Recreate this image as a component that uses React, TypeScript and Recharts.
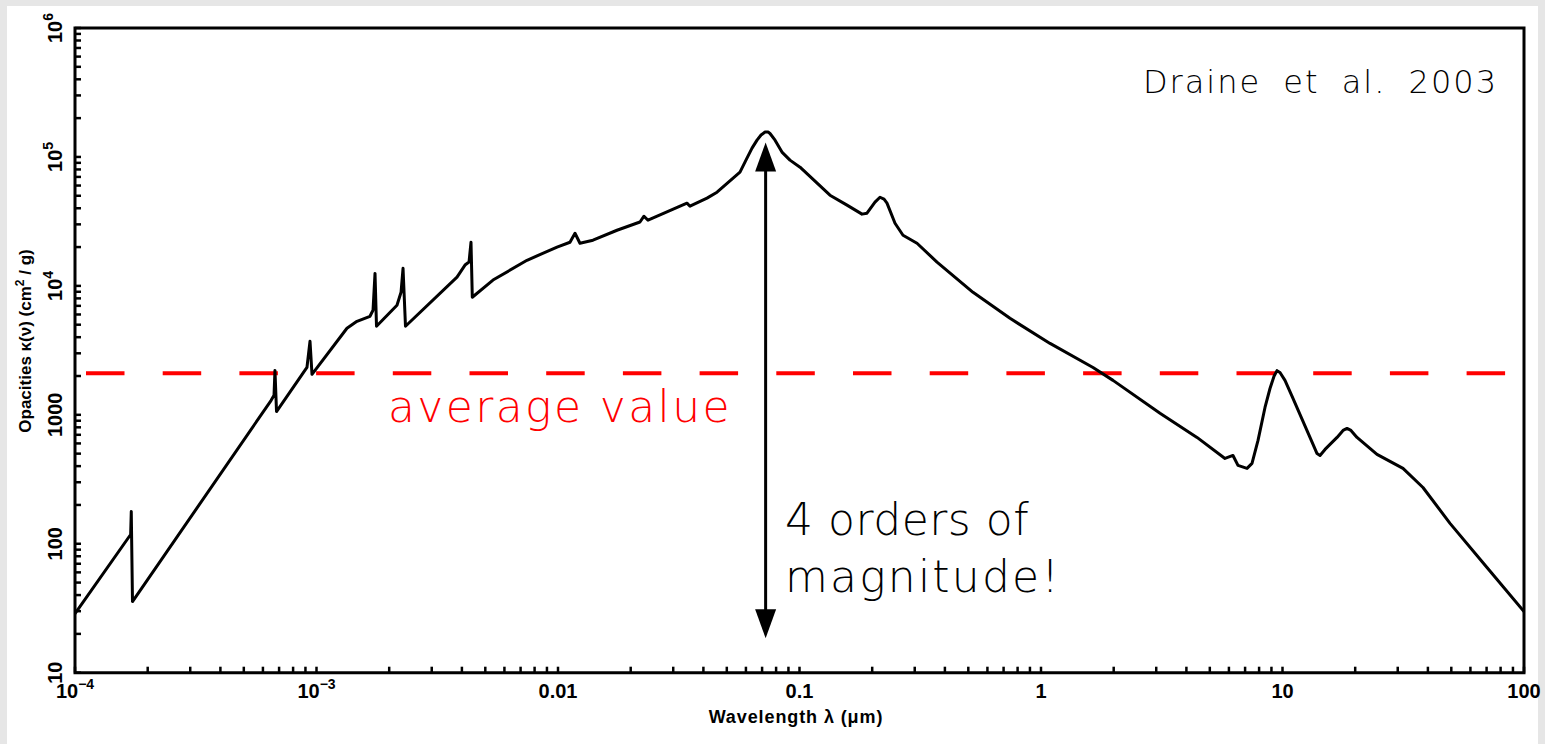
import React from 'react';
import { LineChart, Line, XAxis, YAxis, ReferenceLine, ReferenceArea } from 'recharts';

// Dust opacity vs wavelength (Draine 2003), lambda in micron, kappa in cm^2/g
const wavelengths = [
  1.0e-4, 1.70e-4, 1.71e-4, 1.73e-4, 6.48e-4, 6.67e-4, 6.73e-4, 6.83e-4,
  9.13e-4, 9.40e-4, 9.58e-4, 1.337e-3, 1.471e-3, 1.665e-3, 1.714e-3, 1.747e-3,
  1.772e-3, 2.154e-3, 2.239e-3, 2.282e-3, 2.336e-3, 3.818e-3, 4.12e-3, 4.281e-3,
  4.363e-3, 4.417e-3, 5.38e-3, 7.44e-3, 9.91e-3, 1.121e-2, 1.176e-2, 1.233e-2,
  1.396e-2, 1.755e-2, 2.185e-2, 2.27e-2, 2.359e-2, 3.42e-2, 3.52e-2, 4.14e-2,
  4.555e-2, 5.67e-2, 6.06e-2, 6.36e-2, 6.67e-2, 6.93e-2, 7.2e-2, 7.41e-2,
  7.55e-2, 7.92e-2, 8.46e-2, 9.13e-2,
  0.1005, 0.1337, 0.1573, 0.1815, 0.1903, 0.2054, 0.2154, 0.2239, 0.2303, 0.2486,
  0.2683, 0.3066, 0.371, 0.523, 0.744, 1.09, 1.642, 1.987,
  3.11, 4.426, 5.779, 6.237, 6.541, 7.129, 7.477, 7.918,
  8.463, 8.876, 9.222, 9.489, 9.763, 10.24, 11.05, 13.38, 13.9, 14.3, 15.0,
  16.82, 17.81, 18.5, 19.21, 20.35, 24.62, 31.55, 38.17, 49.39, 70.27, 100,
];

const opacities = [
  28.7, 118, 178, 35.6, 1290, 1420, 2210, 1060,
  2330, 3720, 2060, 4690, 5310, 5810, 6470, 12500,
  4860, 7070, 8920, 13700, 4860, 11700, 14500, 15300,
  21800, 8160, 11100, 15800, 20000, 21800, 25600, 21400,
  22600, 27000, 31300, 34700, 32300, 43800, 41500, 47900,
  53300, 76200, 97900, 117000, 135000, 148000, 156000, 156000,
  152000, 135000, 109000, 94500,
  83300, 50500, 42300, 36000, 36600, 44600, 48700, 47000, 43800, 30600,
  24700, 21400, 15300, 8920, 5600, 3580, 2330, 1850,
  1030, 668, 459, 484, 405, 384, 420, 633,
  1140, 1600, 1990, 2200, 2130, 1850, 1340, 589, 501, 484, 539,
  668, 757, 784, 757, 668, 493, 384, 273, 144, 65.4, 29.8,
];

const xDecades = [1e-4, 1e-3, 0.01, 0.1, 1, 10, 100];
const xDecadeLabels = ['10^\u22124', '10^\u22123', '0.01', '0.1', '1', '10', '100'];
const yDecades = [10, 100, 1000, 1e4, 1e5, 1e6];
const yDecadeLabels = ['10', '100', '1000', '10^4', '10^5', '10^6'];

const averageOpacity = 2100;
// the double arrow spans four decades below the UV peak
const arrowWavelength = 0.0724;
const arrowLow = 15.5;
const arrowHigh = 1.55e5;

const data = wavelengths.map((lambda, i) => ({ lambda, kappa: opacities[i] }));

// 1..9 times every decade, for the log tick marks
const logTicks = (decades: number[]) => {
  const out: number[] = [];
  decades.forEach((d, i) => {
    if (i === decades.length - 1) {
      out.push(d);
      return;
    }
    for (let m = 1; m <= 9; m++) out.push(d * m);
  });
  return out;
};

const xTicks = logTicks(xDecades);
const yTicks = logTicks(yDecades);

const labelFor = (v: number, decades: number[], labels: string[]) => {
  const i = decades.findIndex(d => Math.abs(v - d) / d < 1e-6);
  return i >= 0 ? labels[i] : null;
};

const power = (label: string) => {
  const [base, exp] = label.split('^');
  return (
    <>
      {base}
      {exp && <tspan dy={-9} fontSize={14}>{exp}</tspan>}
    </>
  );
};

const TICK = 6;
const tickFont = "'Liberation Sans', Arial, Helvetica, sans-serif";
const thinFont = "'DejaVu Sans', sans-serif";

const BottomTick = (props: any) => {
  const { x, y, payload } = props;
  const label = labelFor(payload.value, xDecades, xDecadeLabels);
  return (
    <g>
      <line x1={x} y1={y} x2={x} y2={y - TICK} stroke="#000" strokeWidth={2.5} />
      {label && (
        <text x={x} y={y + 25} textAnchor="middle" fontFamily={tickFont} fontWeight="bold" fontSize={20} fill="#000">
          {power(label)}
        </text>
      )}
    </g>
  );
};

const TopTick = (props: any) => {
  const { x, y } = props;
  return <line x1={x} y1={y} x2={x} y2={y + TICK} stroke="#000" strokeWidth={2.5} />;
};

const LeftTick = (props: any) => {
  const { x, y, payload } = props;
  const label = labelFor(payload.value, yDecades, yDecadeLabels);
  return (
    <g>
      <line x1={x} y1={y} x2={x + TICK} y2={y} stroke="#000" strokeWidth={2.5} />
      {label && (
        <text
          transform={`translate(${x - 13}, ${y}) rotate(-90)`}
          textAnchor="middle"
          fontFamily={tickFont}
          fontWeight="bold"
          fontSize={20}
          fill="#000"
        >
          {power(label)}
        </text>
      )}
    </g>
  );
};

const RightTick = (props: any) => {
  const { x, y } = props;
  return <line x1={x} y1={y} x2={x - TICK} y2={y} stroke="#000" strokeWidth={2.5} />;
};

const DoubleArrow = (props: any) => {
  const { x1, y1, y2 } = props;
  const top = Math.min(y1, y2) + 10;
  const bottom = Math.max(y1, y2) - 10;
  const head = 29;
  const half = 10.5;
  return (
    <g>
      <line x1={x1} y1={top + head - 2} x2={x1} y2={bottom - head + 2} stroke="#000" strokeWidth={3} />
      <polygon points={`${x1},${top} ${x1 - half},${top + head} ${x1 + half},${top + head}`} fill="#000" />
      <polygon points={`${x1},${bottom} ${x1 - half},${bottom - head} ${x1 + half},${bottom - head}`} fill="#000" />
    </g>
  );
};

const DashedLevel = (props: any) => {
  const { x1, y1, x2, y2 } = props;
  return (
    <line
      x1={x1}
      y1={y1}
      x2={x2}
      y2={y2}
      stroke="#ff0000"
      strokeWidth={4}
      strokeDasharray="38.5 38.2"
      strokeDashoffset={65.7}
    />
  );
};

export default function App() {
  return (
    <div style={{ position: 'absolute', left: 0, top: 0, width: 1545, height: 744, background: '#e6e6e6' }}>
      <div style={{ position: 'absolute', left: 7, top: 6, width: 1531, height: 738, background: '#fff' }} />
      <div style={{ position: 'absolute', left: 0, top: 0 }}>
        <LineChart width={1545} height={744} data={data} margin={{ top: 28, right: 21, bottom: 0, left: 0 }}>
          <XAxis
            dataKey="lambda"
            type="number"
            scale="log"
            domain={[1e-4, 100]}
            allowDataOverflow
            ticks={xTicks}
            interval={0}
            height={71.3}
            tickSize={0}
            tickMargin={0}
            tickLine={false}
            axisLine={false}
            tick={(p: any) => <BottomTick {...p} />}
          />
          <XAxis
            xAxisId="top"
            orientation="top"
            dataKey="lambda"
            type="number"
            scale="log"
            domain={[1e-4, 100]}
            allowDataOverflow
            ticks={xTicks}
            interval={0}
            height={0}
            tickSize={0}
            tickMargin={0}
            tickLine={false}
            axisLine={false}
            tick={(p: any) => <TopTick {...p} />}
          />
          <YAxis
            type="number"
            scale="log"
            domain={[10, 1e6]}
            allowDataOverflow
            ticks={yTicks}
            interval={0}
            width={75}
            tickSize={0}
            tickMargin={0}
            tickLine={false}
            axisLine={false}
            tick={(p: any) => <LeftTick {...p} />}
          />
          <YAxis
            yAxisId="right"
            orientation="right"
            type="number"
            scale="log"
            domain={[10, 1e6]}
            allowDataOverflow
            ticks={yTicks}
            interval={0}
            width={0}
            tickSize={0}
            tickMargin={0}
            tickLine={false}
            axisLine={false}
            tick={(p: any) => <RightTick {...p} />}
          />
          <ReferenceLine y={averageOpacity} shape={(p: any) => <DashedLevel {...p} />} />
          <ReferenceLine
            segment={[
              { x: arrowWavelength, y: arrowLow },
              { x: arrowWavelength, y: arrowHigh },
            ]}
            shape={(p: any) => <DoubleArrow {...p} />}
          />
          <Line
            type="linear"
            dataKey="kappa"
            stroke="#000"
            strokeWidth={3}
            strokeLinejoin="round"
            strokeLinecap="round"
            dot={false}
            activeDot={false}
            isAnimationActive={false}
          />
          <ReferenceArea x1={1e-4} x2={100} y1={10} y2={1e6} fill="none" stroke="#000" strokeWidth={3} fillOpacity={0} />
        </LineChart>
      </div>
      <svg width={1545} height={744} style={{ position: 'absolute', left: 0, top: 0, pointerEvents: 'none' }}>
        <text x={1498} y={93} textAnchor="end" fontFamily={thinFont} fontWeight={200} fontSize={32} letterSpacing={2} wordSpacing={10} fill="#000">
          Draine et al. 2003
        </text>
        <text x={388} y={422} fontFamily={thinFont} fontWeight={200} fontSize={44} letterSpacing={2.4} fill="#ff0000">
          average value
        </text>
        <text x={785} y={535} fontFamily={thinFont} fontWeight={200} fontSize={44} letterSpacing={0.5} fill="#000">
          4 orders of
        </text>
        <text x={785} y={592} fontFamily={thinFont} fontWeight={200} fontSize={44} letterSpacing={2.2} fill="#000">
          magnitude!
        </text>
        <text x={796} y={723} textAnchor="middle" fontFamily={tickFont} fontWeight="bold" fontSize={18} letterSpacing={0.9} fill="#000">
          Wavelength {'\u03bb'} ({'\u03bc'}m)
        </text>
        <text
          transform="translate(31, 341) rotate(-90)"
          textAnchor="middle"
          fontFamily={tickFont}
          fontWeight="bold"
          fontSize={17}
          fill="#000"
        >
          Opacities {'\u03ba'}({'\u03bd'}) (cm<tspan dy={-7} fontSize={12}>2</tspan>
          <tspan dy={7}> / g)</tspan>
        </text>
      </svg>
    </div>
  );
}
